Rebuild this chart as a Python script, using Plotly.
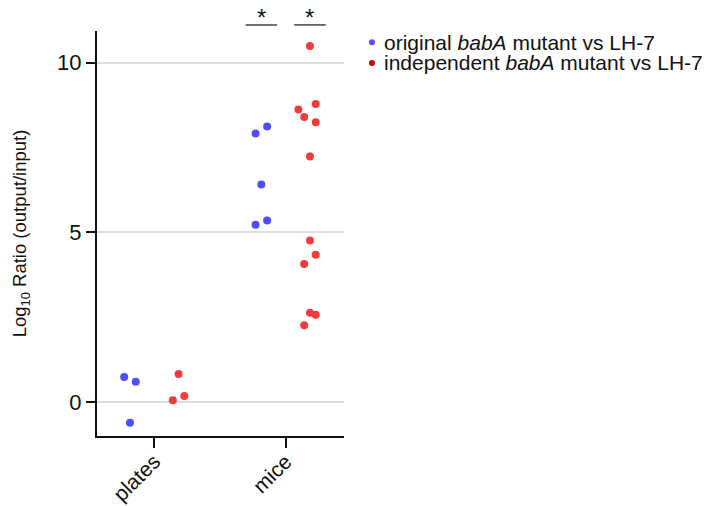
import plotly.graph_objects as go

# Log10 competition ratios (output/input) per condition
categories = ["plates", "mice"]

original_plates = [0.74, 0.60, -0.61]
original_mice = [7.91, 8.12, 6.41, 5.22, 5.35]

independent_plates = [0.83, 0.05, 0.18]
independent_mice = [10.49, 8.78, 8.62, 8.40, 8.24, 7.23, 4.76, 4.34, 4.07, 2.63, 2.57, 2.26]

# horizontal spread of the dots within each group (in jitter steps)
spread_original_plates = [-1, 1, 0]
spread_original_mice = [-1, 1, 0, -1, 1]
spread_independent_plates = [0, -1, 1]
spread_independent_mice = [0, 1, -2, -1, 1, 0, 0, 1, -1, 0, 1, -1]

GROUP_OFFSET = 0.185
JITTER_STEP = 0.044

BLUE = "#4f4fff"
RED = "#f03c3c"
BLUE_KEY = "#5050ff"
RED_KEY = "#cc0000"
FONT = "Liberation Sans, Arial, sans-serif"


def positions(cat_index, offset, spread):
    return [cat_index + offset + s * JITTER_STEP for s in spread]


fig = go.Figure()

fig.add_trace(go.Scatter(
    x=positions(0, -GROUP_OFFSET, spread_original_plates) + positions(1, -GROUP_OFFSET, spread_original_mice),
    y=original_plates + original_mice,
    mode="markers",
    marker=dict(color=BLUE, size=8),
    showlegend=False,
))
fig.add_trace(go.Scatter(
    x=positions(0, GROUP_OFFSET, spread_independent_plates) + positions(1, GROUP_OFFSET, spread_independent_mice),
    y=independent_plates + independent_mice,
    mode="markers",
    marker=dict(color=RED, size=8),
    showlegend=False,
))

# significance bars above the mice groups
shapes = []
annotations = []
for center in (1 - GROUP_OFFSET, 1 + GROUP_OFFSET):
    shapes.append(dict(type="line", xref="x", yref="paper",
                       x0=center - 0.12, x1=center + 0.12, y0=1.015, y1=1.015,
                       line=dict(color="#444444", width=1.5)))
    annotations.append(dict(x=center, y=0.995, xref="x", yref="paper", text="*",
                            showarrow=False, yanchor="bottom",
                            font=dict(family=FONT, size=24, color="#111111")))

# legend keys
legend_rows = [
    (BLUE_KEY, "original <i>babA</i> mutant vs LH-7", 0.972),
    (RED_KEY, "independent <i>babA</i> mutant vs LH-7", 0.921),
]
for color, label, ypos in legend_rows:
    shapes.append(dict(type="circle", xref="paper", yref="paper",
                       xsizemode="pixel", ysizemode="pixel",
                       xanchor=1.113, yanchor=ypos, x0=-3, x1=3, y0=-3, y1=3,
                       fillcolor=color, line=dict(width=0)))
    annotations.append(dict(x=1.152, y=ypos, xref="paper", yref="paper", text=label,
                            showarrow=False, xanchor="left", yanchor="middle",
                            font=dict(family=FONT, size=21, color="#111111")))

fig.update_layout(
    width=712, height=506,
    margin=dict(l=97, r=368, t=31, b=70, autoexpand=False),
    plot_bgcolor="white", paper_bgcolor="white",
    font=dict(family=FONT, size=21, color="#111111"),
    shapes=shapes,
    annotations=annotations,
    xaxis=dict(
        range=[-0.436, 1.444],
        tickvals=[0, 1], ticktext=categories,
        tickangle=-45,
        ticks="outside", ticklen=10, tickwidth=2, tickcolor="#111111",
        showline=True, linecolor="#111111", linewidth=2,
        showgrid=False, zeroline=False, automargin=False,
        tickfont=dict(size=21),
        ticklabelstandoff=-7,
    ),
    yaxis=dict(
        range=[-1.0, 10.93],
        tickvals=[0, 5, 10],
        ticks="outside", ticklen=9, tickwidth=2, tickcolor="#111111",
        showline=True, linecolor="#111111", linewidth=2,
        showgrid=True, gridcolor="#dddddd", gridwidth=1.5,
        zeroline=False, automargin=False,
        tickfont=dict(size=22),
        title=dict(text="Log<sub>10</sub> Ratio (output/input)", font=dict(size=18.5), standoff=26),
    ),
)

fig.write_html("out.html")
